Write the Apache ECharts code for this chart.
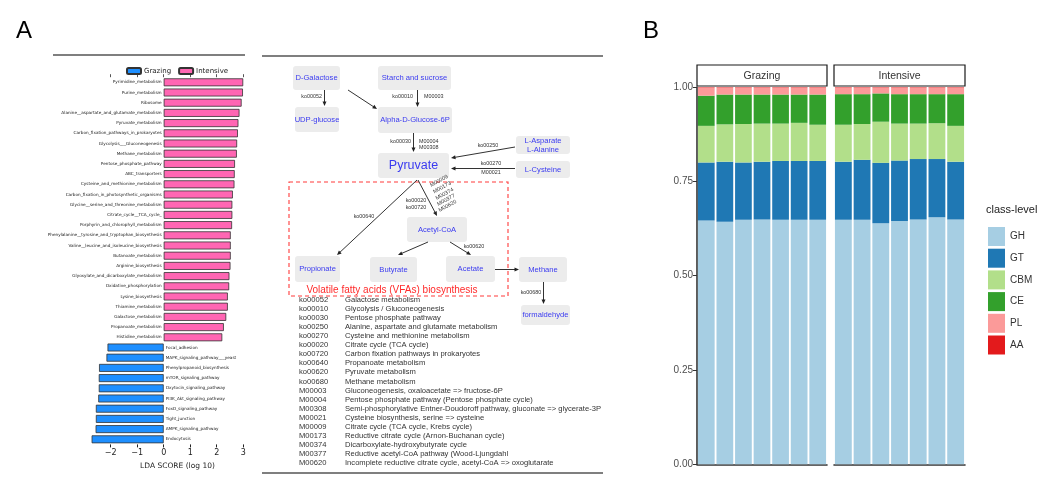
<!DOCTYPE html>
<html><head><meta charset="utf-8">
<script src="https://cdn.jsdelivr.net/npm/echarts@6/dist/echarts.min.js"></script>
<style>html,body{margin:0;padding:0;background:#fff}#c{width:1051px;height:492px}</style>
</head><body><div id="c"></div><script>
// ---------- Panel A: LEfSe LDA scores ----------
const ldaNames = ['Pyrimidine_metabolism','Purine_metabolism','Ribosome','Alanine__aspartate_and_glutamate_metabolism','Pyruvate_metabolism','Carbon_fixation_pathways_in_prokaryotes','Glycolysis___Gluconeogenesis','Methane_metabolism','Pentose_phosphate_pathway','ABC_transporters','Cysteine_and_methionine_metabolism','Carbon_fixation_in_photosynthetic_organisms','Glycine__serine_and_threonine_metabolism','Citrate_cycle__TCA_cycle_','Porphyrin_and_chlorophyll_metabolism','Phenylalanine__tyrosine_and_tryptophan_biosynthesis','Valine__leucine_and_isoleucine_biosynthesis','Butanoate_metabolism','Arginine_biosynthesis','Glyoxylate_and_dicarboxylate_metabolism','Oxidative_phosphorylation','Lysine_biosynthesis','Thiamine_metabolism','Galactose_metabolism','Propanoate_metabolism','Histidine_metabolism','Focal_adhesion','MAPK_signaling_pathway___yeast','Phenylpropanoid_biosynthesis','mTOR_signaling_pathway','Oxytocin_signaling_pathway','PI3K_Akt_signaling_pathway','FoxO_signaling_pathway','Tight_junction','AMPK_signaling_pathway','Endocytosis'];
const ldaScores = [3.00,2.99,2.94,2.86,2.82,2.80,2.77,2.76,2.69,2.68,2.67,2.61,2.59,2.59,2.58,2.53,2.53,2.53,2.52,2.48,2.47,2.42,2.42,2.36,2.27,2.21,-2.12,-2.16,-2.44,-2.45,-2.45,-2.47,-2.56,-2.56,-2.57,-2.72];
const ldaGroups = ['Grazing','Intensive'];
const ldaTicks = [-2,-1,0,1,2,3];
const ldaAxisTitle = 'LDA SCORE (log 10)';

// ---------- Pathway diagram ----------
const nodeNames = ['D-Galactose','Starch and sucrose','UDP-glucose','Alpha-D-Glucose-6P','Pyruvate','L-Asparate\nL-Alanine','L-Cysteine','Acetyl-CoA','Propionate','Butyrate','Acetate','Methane','formaldehyde'];
const edgeLabels = ['ko00052','ko00010','M00003','ko00030','M00004\nM00308','ko00250','ko00270','M00021','ko00020\nko00720','ko00640','ko00620','ko00680'];
const moduleLabels = ['M00009','M00173','M00374','M00377','M00620'];
const vfaTitle = 'Volatile fatty acids (VFAs) biosynthesis';
const tableCodes = ['ko00052','ko00010','ko00030','ko00250','ko00270','ko00020','ko00720','ko00640','ko00620','ko00680','M00003','M00004','M00308','M00021','M00009','M00173','M00374','M00377','M00620'];
const tableDescs = ['Galactose metabolism','Glycolysis / Gluconeogenesis','Pentose phosphate pathway','Alanine, aspartate and glutamate metabolism','Cysteine and methionine metabolism','Citrate cycle (TCA cycle)','Carbon fixation pathways in prokaryotes','Propanoate metabolism','Pyruvate metabolism','Methane metabolism','Gluconeogenesis, oxaloacetate => fructose-6P','Pentose phosphate pathway (Pentose phosphate cycle)','Semi-phosphorylative Entner-Doudoroff pathway, gluconate => glycerate-3P','Cysteine biosynthesis, serine => cysteine','Citrate cycle (TCA cycle, Krebs cycle)','Reductive citrate cycle (Arnon-Buchanan cycle)','Dicarboxylate-hydroxybutyrate cycle','Reductive acetyl-CoA pathway (Wood-Ljungdahl','Incomplete reductive citrate cycle, acetyl-CoA => oxoglutarate'];

// ---------- Panel B: class-level composition ----------
const facets = ['Grazing','Intensive'];
const samples = ['1','2','3','4','5','6','7'];
const classLevels = ['GH','GT','CBM','CE','PL','AA'];
const grazingGH  = [0.646,0.643,0.648,0.649,0.648,0.648,0.648];
const grazingGT  = [0.154,0.159,0.152,0.153,0.156,0.156,0.156];
const grazingCBM = [0.097,0.099,0.102,0.101,0.099,0.101,0.096];
const grazingCE  = [0.080,0.079,0.078,0.077,0.077,0.075,0.080];
const grazingPL  = [0.022,0.019,0.019,0.019,0.019,0.019,0.019];
const grazingAA  = [0.001,0.001,0.001,0.001,0.001,0.001,0.001];
const intensiveGH  = [0.648,0.648,0.639,0.645,0.649,0.655,0.649];
const intensiveGT  = [0.154,0.159,0.160,0.160,0.160,0.154,0.153];
const intensiveCBM = [0.098,0.095,0.109,0.098,0.094,0.095,0.095];
const intensiveCE  = [0.081,0.079,0.075,0.078,0.078,0.077,0.084];
const intensivePL  = [0.018,0.018,0.016,0.018,0.018,0.018,0.018];
const intensiveAA  = [0.001,0.001,0.001,0.001,0.001,0.001,0.001];

// ---------- styles / layout ----------
const SANS = 'Liberation Sans, Arial, sans-serif';
const DJV = 'DejaVu Sans, sans-serif';
const ldaColors = {Grazing:'#1e8fff', Intensive:'#ff66b3'};
const classColors = ['#a6cee3','#1f78b4','#b2df8a','#33a02c','#fb9a99','#e31a1c'];
const nodeBoxes = [[293,66,47,24],[378,66,73,24],[295,107,44,25],[378,107,74,26],[378,153,71,25],[516,136,54,18],[516,161,54,17],[407,217,60,25],[295,256,45,26],[370,257,47,25],[446,256,49,26],[519,257,48,25],[521,305,49,20]];
const arrowSegs = [[324.5,90,324.5,106],[348,90,377,109],[417.5,90,417.5,107],[413.5,133,413.5,152],[515,147,451,158],[515,168.5,451,168.5],[418,180,437,216],[417,180,337,255],[428,242,398,255],[450,242,471,255],[495,269.5,519,269.5],[543.5,282,543.5,304]];
const edgeLabelPos = [[322,97,'right'],[413,97,'right'],[424,97,'left'],[411,142,'right'],[419,144.5,'left'],[488,146,'center'],[491,164,'center'],[491,173,'center'],[416,204,'center'],[364,217,'center'],[474,247,'center'],[531,293,'center']];
const modulePos = [[439,181],[442,187.5],[444.5,194],[446,200],[447.5,206]];

const G = [];
function txt(x,y,s,st,extra){G.push(Object.assign({type:'text',x:x,y:y,silent:true,style:Object.assign({text:s,fill:'#222',font:'8px '+SANS,align:'left',verticalAlign:'middle'},st)},extra||{}));}
function line(x1,y1,x2,y2,st){G.push({type:'line',silent:true,shape:{x1:x1,y1:y1,x2:x2,y2:y2},style:Object.assign({stroke:'#333',lineWidth:1},st)});}
function arrow(x1,y1,x2,y2){
  const a=Math.atan2(y2-y1,x2-x1),L=4.5,W=2,c=Math.cos(a),s=Math.sin(a);
  line(x1,y1,x2-c*L*0.7,y2-s*L*0.7,{stroke:'#333',lineWidth:1});
  G.push({type:'polygon',silent:true,shape:{points:[[x2,y2],[x2-L*c+W*s,y2-L*s-W*c],[x2-L*c-W*s,y2-L*s+W*c]]},style:{fill:'#222'}});
}
// panel letters
txt(24,31,'A',{font:'24px '+SANS,fill:'#000',align:'center'});
txt(651,31,'B',{font:'24px '+SANS,fill:'#000',align:'center'});
// frame lines
line(53,55,245,55,{stroke:'#555',lineWidth:1.6});
line(262,56,603,56,{stroke:'#555',lineWidth:1.6});
line(262,473,603,473,{stroke:'#555',lineWidth:1.6});
// LDA axis title
txt(177.5,466,ldaAxisTitle,{font:'7.5px '+DJV,fill:'#222',align:'center'});
// node boxes
nodeNames.forEach(function(n,i){
  const b=nodeBoxes[i];
  G.push({type:'rect',silent:true,shape:{x:b[0],y:b[1],width:b[2],height:b[3],r:3},style:{fill:'#ececec'}});
  const big = n==='Pyruvate';
  txt(b[0]+b[2]/2,b[1]+b[3]/2,n,{fill:'#3a3af0',font:(big?'12.5px ':'7.6px ')+SANS,align:'center',lineHeight:9});
});
// VFA dashed box
G.push({type:'rect',silent:true,shape:{x:289,y:182,width:219,height:114},style:{fill:'none',stroke:'#ff3b3b',lineWidth:1.1,lineDash:[4,3]}});
txt(392,290,vfaTitle,{fill:'#ff2a2a',font:'10px '+SANS,align:'center'});
// arrows
arrowSegs.forEach(function(s){arrow(s[0],s[1],s[2],s[3]);});
edgeLabels.forEach(function(t,i){const p=edgeLabelPos[i];txt(p[0],p[1],t,{font:'5.4px '+SANS,align:p[2],lineHeight:6.8,fill:'#333'});});
moduleLabels.forEach(function(t,i){const p=modulePos[i];txt(p[0],p[1],t,{font:'5.4px '+SANS,align:'center',fill:'#333'},{rotation:0.5});});
// table
tableCodes.forEach(function(c,i){
  const y=300+i*9.05;
  txt(299,y,c,{font:'7.6px '+SANS,fill:'#333'});
  txt(345,y,tableDescs[i],{font:'7.6px '+SANS,fill:'#333'});
});
// facet strips
[[697,130],[834,131]].forEach(function(f,i){
  G.push({type:'rect',silent:true,shape:{x:f[0],y:65,width:f[1],height:21},style:{fill:'#fff',stroke:'#1a1a1a',lineWidth:1.2}});
  txt(f[0]+f[1]/2,76,facets[i],{font:'10.5px '+SANS,fill:'#333',align:'center'});
});
txt(986,210,'class-level',{font:'11px '+SANS,fill:'#222'});

// ---------- series ----------
const series = [];
ldaGroups.forEach(function(g){
  const neg = g==='Grazing';
  series.push({name:g,type:'bar',stack:'lda',xAxisIndex:0,yAxisIndex:0,barCategoryGap:'22%',
    data:ldaScores.map(function(v){return (neg? v<0 : v>0) ? v : '-';}),
    itemStyle:{color:ldaColors[g],borderColor:'#333',borderWidth:0.8},
    label:{show:true,position:neg?'right':'left',distance:2,formatter:'{b}',fontSize:4.2,fontFamily:DJV,color:'#222'},
    silent:true});
});
const gArr=[grazingGH,grazingGT,grazingCBM,grazingCE,grazingPL,grazingAA];
const iArr=[intensiveGH,intensiveGT,intensiveCBM,intensiveCE,intensivePL,intensiveAA];
classLevels.forEach(function(c,k){
  series.push({name:c,type:'bar',stack:'g',xAxisIndex:2,yAxisIndex:1,barCategoryGap:'10%',data:gArr[k],itemStyle:{color:classColors[k]},silent:true});
  series.push({name:c,type:'bar',stack:'i',xAxisIndex:3,yAxisIndex:2,barCategoryGap:'10%',data:iArr[k],itemStyle:{color:classColors[k]},silent:true});
});

const chart = echarts.init(document.getElementById('c'),null,{renderer:'canvas'});
chart.setOption({
  animation:false,
  backgroundColor:'#fff',
  grid:[
    {left:44.45,width:204.05,top:77.2,height:367.2},
    {left:697,width:130,top:87,height:377.3},
    {left:834,width:131,top:87,height:377.3}
  ],
  legend:[
    {data:ldaGroups,left:121,top:62,itemWidth:14,itemHeight:6,itemGap:7,selectedMode:false,
      textStyle:{fontSize:7,fontFamily:DJV,color:'#222',padding:[0,0,0,-2]}},
    {data:classLevels,orient:'vertical',left:983,top:222,itemWidth:17,itemHeight:19,itemGap:2.7,selectedMode:false,
      icon:'rect',textStyle:{fontSize:10,fontFamily:SANS,color:'#333'}}
  ],
  xAxis:[
    {type:'value',gridIndex:0,min:-4.5,max:3.2,position:'bottom',
      axisLine:{show:false},splitLine:{show:false},
      axisTick:{show:true,length:3,customValues:ldaTicks,lineStyle:{color:'#222'}},
      axisLabel:{customValues:ldaTicks,fontSize:8,fontFamily:DJV,color:'#222',margin:5,formatter:function(v){return String(v).replace('-','\u2212');}}},
    {type:'value',gridIndex:0,min:-4.5,max:3.2,position:'top',
      axisLine:{show:false},splitLine:{show:false},axisLabel:{show:false},
      axisTick:{show:true,length:3,customValues:ldaTicks,lineStyle:{color:'#555'}}},
    {type:'category',gridIndex:1,data:samples,axisTick:{show:false},axisLabel:{show:false},
      axisLine:{show:true,lineStyle:{color:'#333',width:1.6}}},
    {type:'category',gridIndex:2,data:samples,axisTick:{show:false},axisLabel:{show:false},
      axisLine:{show:true,lineStyle:{color:'#333',width:1.6}}}
  ],
  yAxis:[
    {type:'category',gridIndex:0,data:ldaNames,inverse:true,axisLine:{show:false},axisTick:{show:false},axisLabel:{show:false},splitLine:{show:false}},
    {type:'value',gridIndex:1,min:0,max:1,interval:0.25,splitLine:{show:false},
      axisLine:{show:true,lineStyle:{color:'#333',width:1.6}},
      axisTick:{show:true,length:4,lineStyle:{color:'#333'}},
      axisLabel:{fontSize:10,fontFamily:SANS,color:'#4d4d4d',margin:4,formatter:function(v){return v.toFixed(2);}}},
    {type:'value',gridIndex:2,min:0,max:1,interval:0.25,show:false,splitLine:{show:false}}
  ],
  series:series,
  graphic:{elements:G}
});
</script></body></html>
